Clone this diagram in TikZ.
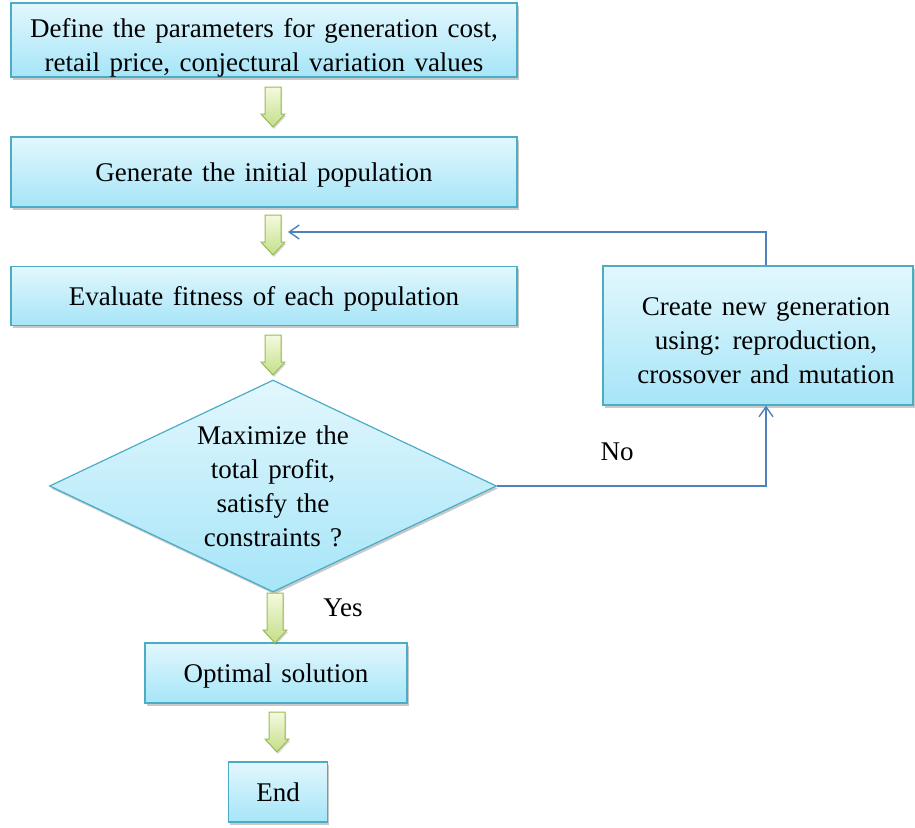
\documentclass[tikz,border=0pt]{standalone}
\usepackage{fontspec}
\setmainfont{Liberation Serif}[WordSpace=1.4]
\usetikzlibrary{shapes.geometric,arrows.meta,shadows,calc}

\definecolor{boxline}{HTML}{4BACC6}
\definecolor{boxtop}{HTML}{E2F7FD}
\definecolor{boxbot}{HTML}{A6E5F8}
\definecolor{garline}{HTML}{9BBB59}
\definecolor{gtop}{HTML}{F4FADF}
\definecolor{gbot}{HTML}{C4DE88}
\definecolor{conn}{HTML}{4F81BD}

\begin{document}
\begin{tikzpicture}[x=1pt,y=-1pt,
  txt/.style={font=\fontsize{27}{34}\selectfont},
  % line boxes of n lines, centred like a slide text frame
  lines/.style={text height=24pt+(#1-1)*34pt, text depth=6pt},
  lowered/.style={text height=34pt+(#1-1)*34pt, text depth=6pt},
  box/.style={txt, draw=boxline, line width=1.2pt, top color=boxtop, bottom color=boxbot,
    align=center, inner sep=0pt, lines=1,
    drop shadow={shadow xshift=1.5pt, shadow yshift=-2.5pt, opacity=0.3, fill=black!70}},
  decision/.style={box, diamond, aspect=2.1},
  flow/.style={draw=conn, line width=1.4pt, -{Straight Barb[length=10pt,width=14pt]}},
  gdown/.pic={
    \path[draw=garline, line width=1pt, top color=gtop, bottom color=gbot,
      drop shadow={shadow xshift=1pt, shadow yshift=-2pt, opacity=0.25, fill=black!60}]
      (-8,0) -- (-8,#1) -- (-12,#1) -- (0,#1+13) -- (12,#1) -- (8,#1) -- (8,0) -- cycle;
  },
]
\useasboundingbox (0,0) rectangle (915,827);

% process steps
\node[box, lowered=2, minimum width=506pt, minimum height=74pt] (define) at (264,40)
  {Define the parameters for generation cost,\\retail price, conjectural variation values};
\node[box, minimum width=506pt, minimum height=70pt] (init) at (264,172)
  {Generate the initial population};
\node[box, minimum width=506pt, minimum height=59pt] (eval) at (264,296)
  {Evaluate fitness of each population};
\node[decision, lines=4, text height=127pt, minimum width=447pt, minimum height=212pt] (check) at (273,486)
  {Maximize the\\total profit,\\satisfy the\\constraints ?};
\node[box, minimum width=262pt, minimum height=60pt] (opt) at (276,673)
  {Optimal solution};
\node[box, minimum width=99pt, minimum height=60pt] (end) at (278,792)
  {End};
\node[box, minimum width=310pt, minimum height=139pt] (newgen) at (758,335.5) {};
\node[txt, align=center, inner sep=0pt, lowered=3] (newgentext) at (766,335.5)
  {Create new generation\\using: reproduction,\\crossover and mutation};

% block arrows between steps
\pic at (273,87) {gdown=27};
\pic at (273,215) {gdown=27};
\pic at (273,335) {gdown=27};
\pic at (275,593) {gdown=37};
\pic at (277,712) {gdown=27};

% loop back connectors
\coordinate (loopin) at (288,232);
\draw[flow] ($(newgen.north)+(8,0)$) |- (loopin);
\draw[flow] (check.east) -| ($(newgen.south)+(8,0)$);

% branch labels
\node[txt] (no) at (617,452) {No};
\node[txt] (yes) at (343,608) {Yes};
\end{tikzpicture}
\end{document}
